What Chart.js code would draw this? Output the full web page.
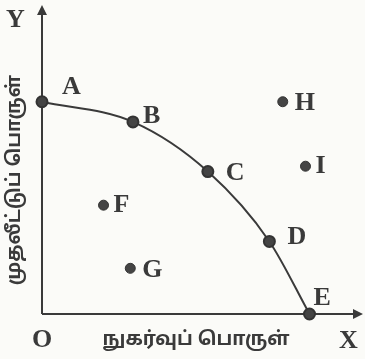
<!DOCTYPE html>
<html>
<head>
<meta charset="utf-8">
<script src="https://cdn.jsdelivr.net/npm/chart.js@4"></script>
<style>
  html, body { margin: 0; padding: 0; background: #fbfbf8; }
  #wrap { width: 365px; height: 359px; }
</style>
</head>
<body>
<div id="wrap"><canvas id="myChart" width="365" height="359"></canvas></div>
<script>
// உற்பத்தி சாத்தியக்கூறு வளைகோடு
const curveLabels = ['A', 'B', 'C', 'D', 'E'];
const curveX = [0, 3.4, 6.2, 8.5, 10];
const curveY = [7.9, 7.15, 5.3, 2.7, 0];

const otherLabels = ['F', 'G', 'H', 'I'];
const otherX = [2.3, 3.3, 9.0, 9.85];
const otherY = [4.05, 1.7, 7.9, 5.5];

const xTitle = 'நுகர்வுப் பொருள்';
const yTitle = 'முதலீட்டுப் பொருள்';

const ink = '#3a3a3a';
const letterFont = 'bold 26px "Liberation Serif", "DejaVu Serif", serif';
const tamilFont = 'bold 19px "Noto Sans Tamil", "Lohit Tamil", "Noto Sans", sans-serif';

function toPoints(xs, ys) {
    let pts = [];
    for (let i = 0; i < xs.length; i++) pts.push({x: xs[i], y: ys[i]});
    return pts;
}

// அச்சுகள், எழுத்துகள்
const drawExtras = {
    id: 'drawExtras',
    beforeDatasetsDraw(chart) {
	const c = chart.ctx;
	const xs = chart.scales.x, ys = chart.scales.y;
	const ox = xs.getPixelForValue(0), oy = ys.getPixelForValue(0);
	const right = xs.getPixelForValue(xs.max), top = ys.getPixelForValue(ys.max);
	c.save();
	c.strokeStyle = ink;
	c.fillStyle = ink;
	c.lineWidth = 2;
	c.beginPath();
	c.moveTo(ox, oy); c.lineTo(right - 2, oy);
	c.moveTo(ox, oy); c.lineTo(ox, top + 2);
	c.stroke();
	// arrows
	c.beginPath();
	c.moveTo(right, oy); c.lineTo(right - 10, oy - 5); c.lineTo(right - 10, oy + 5); c.closePath();
	c.moveTo(ox, top); c.lineTo(ox - 5, top + 10); c.lineTo(ox + 5, top + 10); c.closePath();
	c.fill();
	c.restore();
    },
    afterDatasetsDraw(chart) {
	const c = chart.ctx;
	const xs = chart.scales.x, ys = chart.scales.y;
	const ox = xs.getPixelForValue(0), oy = ys.getPixelForValue(0);
	c.save();
	c.fillStyle = ink;
	c.font = letterFont;
	c.textBaseline = 'middle';
	c.textAlign = 'left';
	const offs = {A: [20, -14], B: [10, -6], C: [18, 2], D: [18, -4], E: [4, -16],
		      F: [10, 0], G: [12, 2], H: [12, 2], I: [10, 0]};
	chart.data.datasets.forEach((ds) => {
	    ds.data.forEach((p, i) => {
		const name = ds.names[i];
		const o = offs[name];
		c.fillText(name, xs.getPixelForValue(p.x) + o[0], ys.getPixelForValue(p.y) + o[1]);
	    });
	});
	c.fillText('Y', 6, 20);
	c.fillText('X', 339, 341);
	c.textAlign = 'center';
	c.fillText('O', ox, oy + 26);
	c.font = tamilFont;
	c.fillText(xTitle, 196, oy + 27);
	c.translate(16, 180);
	c.rotate(-Math.PI / 2);
	c.fillText(yTitle, 0, 0);
	c.restore();
    }
};

var ctx = document.getElementById('myChart').getContext('2d');
var chart = new Chart(ctx, {
    type: 'scatter',
    data: {
	datasets: [{
	    names: curveLabels,
	    data: toPoints(curveX, curveY),
	    showLine: true,
	    cubicInterpolationMode: 'monotone',
	    borderColor: ink,
	    borderWidth: 2,
	    pointRadius: 5.5,
	    pointBackgroundColor: '#444',
	    pointBorderColor: '#333',
	    clip: false,
	}, {
	    names: otherLabels,
	    data: toPoints(otherX, otherY),
	    showLine: false,
	    pointRadius: 5,
	    pointBackgroundColor: '#444',
	    pointBorderColor: '#333',
	    clip: false,
	}]
    },
    options: {
	responsive: false,
	animation: false,
	layout: { autoPadding: false, padding: { left: 42, top: 5, right: 2, bottom: 45 } },
	plugins: { legend: { display: false }, tooltip: { enabled: false } },
	scales: {
	    x: { display: false, min: 0, max: 12 },
	    y: { display: false, min: 0, max: 11.5 }
	}
    },
    plugins: [drawExtras]
});
</script>
</body>
</html>
